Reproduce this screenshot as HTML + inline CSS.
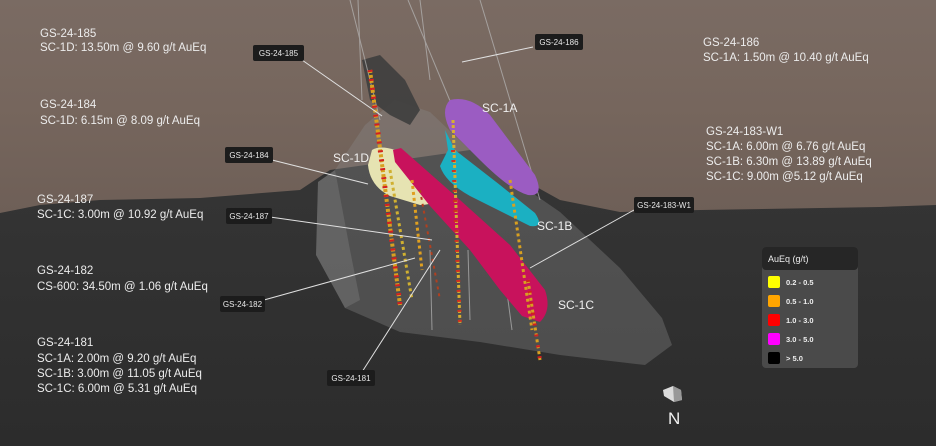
<!DOCTYPE html>
<html><head><meta charset="utf-8"><style>
html,body{margin:0;padding:0;width:936px;height:446px;overflow:hidden;background:#333}
svg{display:block}
text{font-family:"Liberation Sans",sans-serif}
</style></head><body>
<svg width="936" height="446" viewBox="0 0 936 446" xmlns="http://www.w3.org/2000/svg">
<defs>
<linearGradient id="bg" x1="0" y1="0" x2="0" y2="1">
<stop offset="0" stop-color="#3a3a3a"/><stop offset="1" stop-color="#2c2c2c"/></linearGradient>
<linearGradient id="br" x1="0" y1="0" x2="0" y2="1">
<stop offset="0" stop-color="#7a6b63"/><stop offset="0.5" stop-color="#76665d"/><stop offset="1" stop-color="#6e5f57"/></linearGradient>
</defs>
<rect width="936" height="446" fill="url(#bg)"/>
<path d="M0 0 H936 V205 L880 207 L700 210 L620 212 L560 200 L470 150 L330 170 L300 190 L200 198 L100 200 L40 205 L0 213 Z" fill="url(#br)"/>
<!-- gray body -->
<path d="M318 182 L335 170 L365 125 L395 100 L430 112 L470 150 L560 212 L620 268 L662 318 L672 345 L645 365 L560 355 L480 342 L400 332 L345 308 L316 255 Z" fill="#8a8a8a" opacity="0.35"/>
<path d="M318 182 L335 170 L350 250 L360 300 L345 308 L316 255 Z" fill="#9a9a9a" opacity="0.25"/>
<path d="M362 60 L380 55 L405 80 L420 110 L410 125 L390 115 L370 100 Z" fill="#3e3e3e" opacity="0.9"/>
<!-- thin vertical lines -->
<g stroke="#b8b8b8" stroke-width="1" opacity="0.7" fill="none">
<line x1="350" y1="0" x2="380" y2="120"/><line x1="358" y1="0" x2="362" y2="100"/>
<line x1="408" y1="0" x2="458" y2="120"/><line x1="420" y1="0" x2="430" y2="80"/>
<line x1="480" y1="0" x2="540" y2="200"/><line x1="430" y1="250" x2="432" y2="330"/>
<line x1="500" y1="240" x2="512" y2="330"/><line x1="468" y1="250" x2="470" y2="320"/>
</g>
<!-- zones -->
<path d="M450 100 Q470 95 490 115 L535 175 Q545 197 528 195 Q510 190 480 160 L450 130 Q440 110 450 100 Z" fill="#9b5cc2"/>
<path d="M445 130 L455 150 L500 185 L535 213 Q545 228 530 226 L470 196 Q445 182 440 166 L448 150 Z" fill="#1bb0c2"/>
<path d="M372 150 Q380 145 395 150 L420 165 L440 190 Q440 205 420 205 L390 196 Q370 186 368 165 Z" fill="#e6e3b2"/>
<path d="M393 150 L401 148 L460 200 L510 245 L545 290 Q552 310 540 322 L522 316 L500 290 L470 250 L430 206 L395 162 Z" fill="#c8125c"/>
<!-- drillholes -->
<g fill="none" stroke-width="4">
<line x1="370" y1="70" x2="400" y2="305" stroke="#d8a020" stroke-dasharray="3 2"/>
<line x1="370" y1="70" x2="400" y2="305" stroke="#d42020" stroke-dasharray="2 7" stroke-width="5"/>
<line x1="390" y1="170" x2="412" y2="300" stroke="#d0b030" stroke-dasharray="3 3" stroke-width="3"/>
<line x1="412" y1="180" x2="422" y2="270" stroke="#e0a020" stroke-dasharray="3 3" stroke-width="3"/>
<line x1="420" y1="190" x2="440" y2="300" stroke="#b04020" stroke-dasharray="3 4" stroke-width="2"/>
<line x1="453" y1="120" x2="460" y2="325" stroke="#d8b030" stroke-dasharray="3 2" stroke-width="3"/>
<line x1="453" y1="150" x2="460" y2="325" stroke="#d03020" stroke-dasharray="2 8" stroke-width="4"/>
<line x1="510" y1="180" x2="532" y2="330" stroke="#d8a020" stroke-dasharray="3 3" stroke-width="3"/>
<line x1="528" y1="280" x2="540" y2="360" stroke="#d8a020" stroke-dasharray="3 3" stroke-width="3"/>
<line x1="528" y1="280" x2="540" y2="360" stroke="#d02020" stroke-dasharray="2 9" stroke-width="4"/>
</g>
<!-- leader lines -->
<g stroke="#e0e0e0" stroke-width="1">
<line x1="302" y1="60" x2="382" y2="116"/><line x1="533" y1="47" x2="462" y2="62"/>
<line x1="272" y1="160" x2="368" y2="184"/><line x1="270" y1="217" x2="432" y2="240"/>
<line x1="634" y1="210" x2="530" y2="268"/><line x1="264" y1="300" x2="415" y2="258"/>
<line x1="362" y1="372" x2="440" y2="250"/>
</g>
<!-- label boxes -->
<g font-size="8" fill="#e8e8e8" text-anchor="middle">
<rect x="253" y="45" width="51" height="16" rx="2" fill="#1c1c1c"/><text x="278.5" y="56">GS-24-185</text>
<rect x="535" y="34" width="48" height="16" rx="2" fill="#1c1c1c"/><text x="559" y="45">GS-24-186</text>
<rect x="225" y="147" width="48" height="16" rx="2" fill="#1c1c1c"/><text x="249" y="158">GS-24-184</text>
<rect x="226" y="208" width="46" height="16" rx="2" fill="#1c1c1c"/><text x="249" y="219">GS-24-187</text>
<rect x="634" y="197" width="60" height="16" rx="2" fill="#1c1c1c"/><text x="664" y="208">GS-24-183-W1</text>
<rect x="220" y="296" width="45" height="16" rx="2" fill="#1c1c1c"/><text x="242.5" y="307">GS-24-182</text>
<rect x="327" y="370" width="48" height="16" rx="2" fill="#1c1c1c"/><text x="351" y="381">GS-24-181</text>
</g>
<!-- zone labels -->
<g font-size="12" fill="#f0f0f0">
<text x="482" y="112">SC-1A</text><text x="333" y="162">SC-1D</text>
<text x="537" y="230">SC-1B</text><text x="558" y="309">SC-1C</text>
</g>
<!-- intercept text -->
<g font-size="11.5" fill="#ececec">
<text x="40" y="37">GS-24-185</text><text x="40" y="51">SC-1D: 13.50m @ 9.60 g/t AuEq</text>
<text x="40" y="108">GS-24-184</text><text x="40" y="124">SC-1D: 6.15m @ 8.09 g/t AuEq</text>
<text x="37" y="203">GS-24-187</text><text x="37" y="218">SC-1C: 3.00m @ 10.92 g/t AuEq</text>
<text x="37" y="274">GS-24-182</text><text x="37" y="290">CS-600: 34.50m @ 1.06 g/t AuEq</text>
<text x="37" y="346">GS-24-181</text><text x="37" y="362">SC-1A: 2.00m @ 9.20 g/t AuEq</text>
<text x="37" y="377">SC-1B: 3.00m @ 11.05 g/t AuEq</text><text x="37" y="392">SC-1C: 6.00m @ 5.31 g/t AuEq</text>
<text x="703" y="46">GS-24-186</text><text x="703" y="61">SC-1A: 1.50m @ 10.40 g/t AuEq</text>
<text x="706" y="135">GS-24-183-W1</text><text x="706" y="150">SC-1A: 6.00m @ 6.76 g/t AuEq</text>
<text x="706" y="165">SC-1B: 6.30m @ 13.89 g/t AuEq</text><text x="706" y="180">SC-1C: 9.00m @5.12 g/t AuEq</text>
</g>
<!-- legend -->
<rect x="762" y="247" width="96" height="121" rx="4" fill="#4a4a4a"/>
<rect x="762" y="247" width="96" height="23" rx="4" fill="#262626"/>
<text x="768" y="262" font-size="9" fill="#eee">AuEq (g/t)</text>
<g font-size="7.5" fill="#eee" font-weight="bold">
<rect x="768" y="276" width="12" height="12" rx="2" fill="#ffff00"/><text x="786" y="285">0.2 - 0.5</text>
<rect x="768" y="295" width="12" height="12" rx="2" fill="#ffa500"/><text x="786" y="304">0.5 - 1.0</text>
<rect x="768" y="314" width="12" height="12" rx="2" fill="#ff0000"/><text x="786" y="323">1.0 - 3.0</text>
<rect x="768" y="333" width="12" height="12" rx="2" fill="#ff00ff"/><text x="786" y="342">3.0 - 5.0</text>
<rect x="768" y="352" width="12" height="12" rx="2" fill="#000"/><text x="786" y="361">&gt; 5.0</text>
</g>
<!-- north -->
<path d="M663 390 L673 386 L681 390 L682 400 L674 402 L664 396 Z" fill="#dcdcdc"/>
<path d="M673 386 L681 390 L682 400 L674 402 Z" fill="#999"/>
<text x="668" y="424" font-size="17" fill="#f0f0f0">N</text>
</svg>
</body></html>
